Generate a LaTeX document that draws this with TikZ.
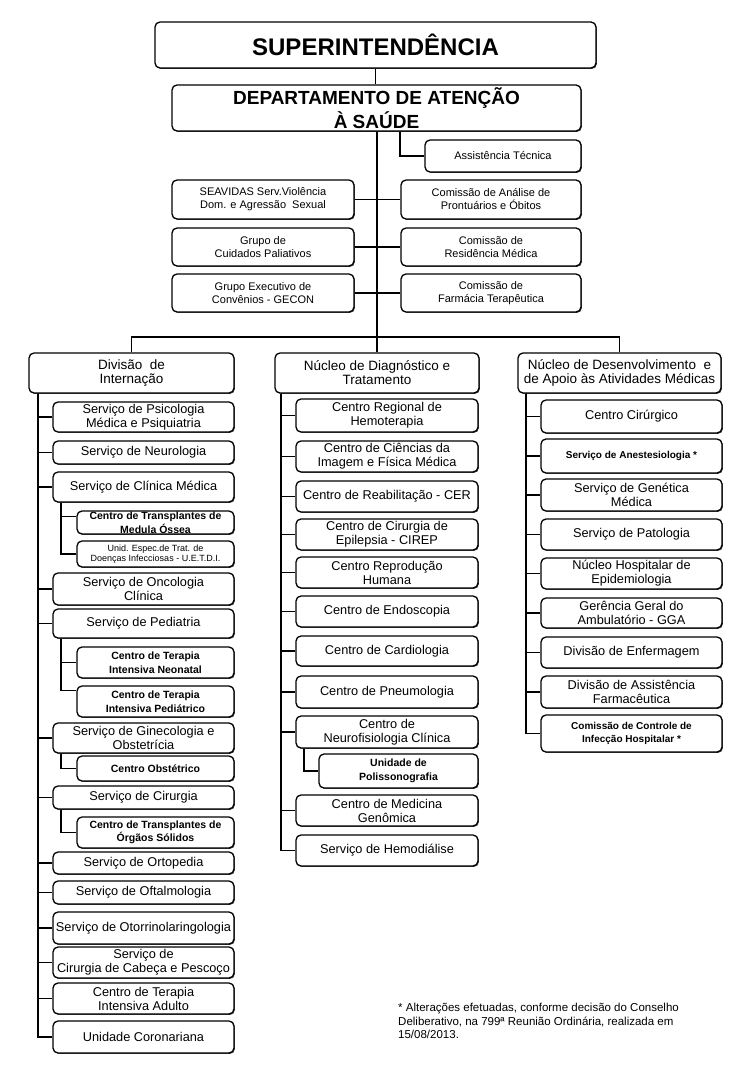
\documentclass[tikz,border=0pt]{standalone}
\usepackage{fontspec}
\setmainfont{Liberation Sans}
\usetikzlibrary{shadows}
\begin{document}
\begin{tikzpicture}[x=1pt,y=-1pt,
  box/.style={draw, rounded corners=5pt, line width=1.3pt, fill=white, align=center, inner sep=0pt,
    drop shadow={shadow xshift=0.9pt, shadow yshift=-0.9pt, fill=black!75, opacity=1}},
  conn/.style={line width=1.3pt},
  big/.style={font=\fontsize{24}{26}\selectfont\bfseries},
  dep/.style={font=\fontsize{19}{23.5}\selectfont\bfseries},
  topf/.style={font=\fontsize{11}{13}\selectfont},
  head/.style={font=\fontsize{13.5}{14}\selectfont},
  reg/.style={font=\fontsize{12.75}{14}\selectfont},
  sbold/.style={font=\fontsize{10.5}{13.5}\selectfont\bfseries},
  tbold/.style={font=\fontsize{10}{13}\selectfont\bfseries},
  tiny/.style={font=\fontsize{9}{10.5}\selectfont},
]
\newcommand\bx[7][]{%
  \node[box,#1,minimum width={(#5-#3)*1pt},minimum height={(#6-#4)*1pt}] (#2) at ({(#3+#5)/2},{(#4+#6)/2}) {#7};}
\path[use as bounding box] (0,0) rectangle (750,1083);
\coordinate (ls) at (38,0);
\coordinate (ls2) at (61,0);
\coordinate (ms) at (281,0);
\coordinate (ms2) at (304,0);
\coordinate (rs) at (526,0);
\coordinate (asx) at (400,0);
\coordinate (bus) at (376,337);

% ---------- top
\bx[big]{sup}{155}{22}{596}{68}{SUPERINTENDÊNCIA}
\bx[dep]{dept}{172}{85}{581}{131}{DEPARTAMENTO DE ATENÇÃO\\À SAÚDE}
\bx[topf]{ast}{425}{140}{581}{172}{Assistência Técnica}
\bx[topf]{sea}{172}{180}{354}{219}{SEAVIDAS Serv.Violência\\Dom. e Agressão\ \ Sexual}
\bx[topf]{can}{401}{180}{581}{219}{Comissão de Análise de\\Prontuários e Óbitos}
\bx[topf]{gcp}{172}{228}{354}{266}{Grupo de\\Cuidados Paliativos}
\bx[topf]{crm}{401}{228}{581}{266}{Comissão de\\Residência Médica}
\bx[topf]{gec}{172}{274}{354}{312}{Grupo Executivo de\\Convênios - GECON}
\bx[topf]{cft}{401}{274}{581}{312}{Comissão de\\Farmácia Terapêutica}

% ---------- column heads
\bx[head]{dint}{29}{353}{234}{393}{Divisão\ \ de\\Internação}
\bx[head]{ndt}{275}{353}{479}{393}{Núcleo\ de Diagnóstico\ e\\Tratamento}
\bx[head]{nda}{518}{353}{721}{393}{Núcleo de Desenvolvimento\ \ e\\de Apoio às Atividades\ Médicas}

% ---------- left column
\bx[reg]{psi}{53}{402}{234}{432}{Serviço de Psicologia\\Médica e Psiquiatria}
\bx[reg]{neu}{53}{441}{234}{464}{Serviço de Neurologia}
\bx[reg]{cli}{53}{472}{234}{502}{Serviço de Clínica Médica}
\bx[sbold]{med}{77}{511}{234}{534}{Centro de Transplantes de\\Medula Óssea}
\bx[tiny]{uet}{77}{541}{234}{567}{Unid. Espec.de Trat. de\\Doenças Infecciosas - U.E.T.D.I.}
\bx[reg]{onc}{53}{573}{234}{605}{Serviço de Oncologia\\Clínica}
\bx[reg]{ped}{53}{609}{234}{638}{Serviço de Pediatria}
\bx[sbold]{neo}{77}{647}{234}{678}{Centro de Terapia\\Intensiva Neonatal}
\bx[sbold]{tip}{77}{686}{234}{717}{Centro de Terapia\\Intensiva Pediátrico}
\bx[reg]{gin}{53}{723}{234}{753}{Serviço de Ginecologia e\\Obstetrícia}
\bx[sbold]{obs}{77}{756}{234}{781}{Centro Obstétrico}
\bx[reg]{cir}{53}{786}{234}{809}{Serviço de Cirurgia}
\bx[sbold]{org}{77}{817}{234}{848}{Centro de Transplantes de\\Órgãos Sólidos}
\bx[reg]{ort}{53}{852}{234}{874}{Serviço de Ortopedia}
\bx[reg]{oft}{53}{881}{234}{904}{Serviço de Oftalmologia}
\bx[reg]{oto}{53}{912}{234}{944}{Serviço de Otorrinolaringologia}
\bx[reg]{cab}{53}{947}{234}{978}{Serviço de\\Cirurgia de Cabeça e Pescoço}
\bx[reg]{adu}{53}{983}{234}{1014}{Centro de Terapia\\Intensiva Adulto}
\bx[reg]{cor}{53}{1021}{234}{1053}{Unidade Coronariana}

% ---------- middle column
\bx[reg]{hem}{296}{399}{478}{432}{Centro Regional de\\Hemoterapia}
\bx[reg]{cie}{296}{441}{478}{472}{Centro de Ciências da\\Imagem e Física Médica}
\bx[reg]{cer}{296}{481}{478}{512}{Centro de Reabilitação - CER}
\bx[reg]{cirep}{296}{519}{478}{550}{Centro de Cirurgia de\\Epilepsia - CIREP}
\bx[reg]{rep}{296}{557}{478}{588}{Centro Reprodução\\Humana}
\bx[reg]{end}{296}{596}{478}{627}{Centro de Endoscopia}
\bx[reg]{car}{296}{636}{478}{666}{Centro de Cardiologia}
\bx[reg]{pne}{296}{676}{478}{708}{Centro de Pneumologia}
\bx[reg]{nfc}{296}{716}{478}{748}{Centro de\\Neurofisiologia Clínica}
\bx[sbold]{pol}{319}{754}{478}{788}{Unidade de\\Polissonografia}
\bx[reg]{gen}{296}{795}{478}{826}{Centro de Medicina\\Genômica}
\bx[reg]{hdl}{296}{835}{478}{866}{Serviço de Hemodiálise}

% ---------- right column
\bx[reg]{ccg}{541}{400}{722}{433}{Centro Cirúrgico}
\bx[tbold]{ane}{541}{439}{722}{473}{Serviço de Anestesiologia *}
\bx[reg]{sgm}{541}{479}{722}{511}{Serviço de Genética\\Médica}
\bx[reg]{pat}{541}{519}{722}{550}{Serviço de Patologia}
\bx[reg]{nhe}{541}{558}{722}{589}{Núcleo Hospitalar de\\Epidemiologia}
\bx[reg]{gga}{541}{598}{722}{628}{Gerência Geral do\\Ambulatório - GGA}
\bx[reg]{enf}{541}{637}{722}{668}{Divisão de Enfermagem}
\bx[reg]{daf}{541}{676}{722}{708}{Divisão de Assistência\\Farmacêutica}
\bx[tbold]{cih}{541}{715}{722}{752}{Comissão de Controle de\\Infecção Hospitalar *}

% ---------- connectors
\draw[conn] (sup.south) -- (sup.south |- dept.north);
\draw[conn] (dept.south -| ndt.north) -- (ndt.north);
\draw[conn] (dint.north) |- (bus) -| (nda.north);
\draw[conn] (dept.south -| asx) |- (ast.west);
\draw[conn] (sea.east) -- (can.west);
\draw[conn] (gcp.east) -- (crm.west);
\draw[conn] (gec.east) -- (cft.west);

\foreach \c in {psi,neu,cli,onc,ped,gin,cir,ort,oft,oto,cab,adu,cor}
  \draw[conn] (dint.south -| ls) |- (\c.west);
\draw[conn] (cli.south -| ls2) |- ([yshift=6pt]med.west);
\draw[conn] (cli.south -| ls2) |- (uet.west);
\draw[conn] (ped.south -| ls2) |- (neo.west);
\draw[conn] (ped.south -| ls2) |- ([yshift=11pt]tip.west);
\draw[conn] (gin.south -| ls2) |- (obs.west);
\draw[conn] (cir.south -| ls2) |- (org.west);

\foreach \c in {hem,cie,cer,cirep,rep,end,car,pne,nfc,gen,hdl}
  \draw[conn] (ndt.south -| ms) |- (\c.west);
\draw[conn] (nfc.south -| ms2) |- (pol.west);

\foreach \c in {ccg,ane,sgm,pat,nhe,gga,enf,daf,cih}
  \draw[conn] (nda.south -| rs) |- (\c.west);

% ---------- footnote
\node[anchor=north west, align=left, inner sep=0pt, font=\fontsize{11.5}{13.5}\selectfont] (fn) at (398,1003)
 {* Alterações efetuadas, conforme decisão do Conselho\\Deliberativo, na 799ª Reunião Ordinária, realizada em\\15/08/2013.};
\end{tikzpicture}
\end{document}
